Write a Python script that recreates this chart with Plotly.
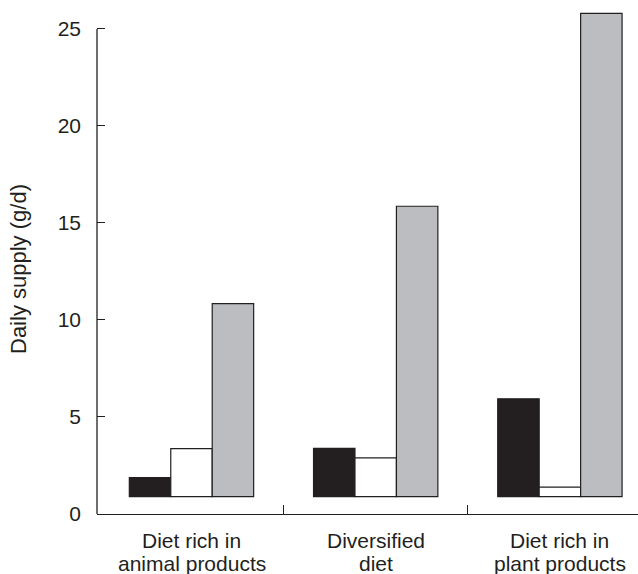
import plotly.graph_objects as go

# Diet categories (two text lines each) and supply values in g/d
categories = ["Diet rich in animal products", "Diversified diet", "Diet rich in plant products"]
label_line1 = ["Diet rich in", "Diversified", "Diet rich in"]
label_line2 = ["animal products", "diet", "plant products"]

series_black = [1.87, 3.38, 5.94]
series_white = [3.37, 2.89, 1.39]
series_gray = [10.84, 15.86, 25.8]

bar_base = 0.9
y_ticks = [0, 5, 10, 15, 20, 25]

INK = "#231f20"
FONT = "Liberation Sans, Arial, Helvetica, sans-serif"

xpos = list(range(len(categories)))

fig = go.Figure()
for vals, color in [(series_black, INK), (series_white, "#ffffff"), (series_gray, "#bcbdc0")]:
    fig.add_trace(go.Bar(
        x=xpos,
        y=[v - bar_base for v in vals],
        base=bar_base,
        marker=dict(color=color, line=dict(color=INK, width=1.2)),
        showlegend=False,
    ))

# y axis line stops at the top tick
fig.add_shape(type="line", xref="paper", yref="y", x0=0, x1=0, y0=0, y1=y_ticks[-1],
              line=dict(color=INK, width=1.3))

# two-line category labels under each group
for i in xpos:
    fig.add_annotation(x=i, xref="x", y=0, yref="paper", yanchor="middle", yshift=-26,
                       text=label_line1[i], showarrow=False,
                       font=dict(family=FONT, size=21, color=INK))
    fig.add_annotation(x=i, xref="x", y=0, yref="paper", yanchor="middle", yshift=-49.5,
                       text=label_line2[i], showarrow=False,
                       font=dict(family=FONT, size=21, color=INK))

fig.add_annotation(text="Daily supply (g/d)", textangle=-90, xref="paper", yref="paper",
                   x=-78 / 541, y=(514 - 269) / 514, xanchor="center", yanchor="middle",
                   showarrow=False, font=dict(family=FONT, size=22, color=INK))

fig.update_layout(
    width=638, height=574,
    margin=dict(l=97, r=0, t=0, b=60),
    paper_bgcolor="white", plot_bgcolor="white",
    barmode="group", bargap=0.325, bargroupgap=0,
    font=dict(family=FONT, size=21, color=INK),
    xaxis=dict(range=[-0.513, 2.424], showgrid=False, zeroline=False,
               showline=True, linecolor=INK, linewidth=1.3,
               tickvals=[0.5, 1.5], ticks="inside", ticklen=9, tickwidth=1.2, tickcolor=INK,
               showticklabels=False),
    yaxis=dict(range=[0, 26.49], showgrid=False, zeroline=False, showline=False,
               tickvals=y_ticks, ticks="inside", ticklen=8, tickwidth=1.2, tickcolor=INK,
               tickfont=dict(family=FONT, size=21, color=INK), ticklabelstandoff=15),
)

fig.write_html("out.html")
